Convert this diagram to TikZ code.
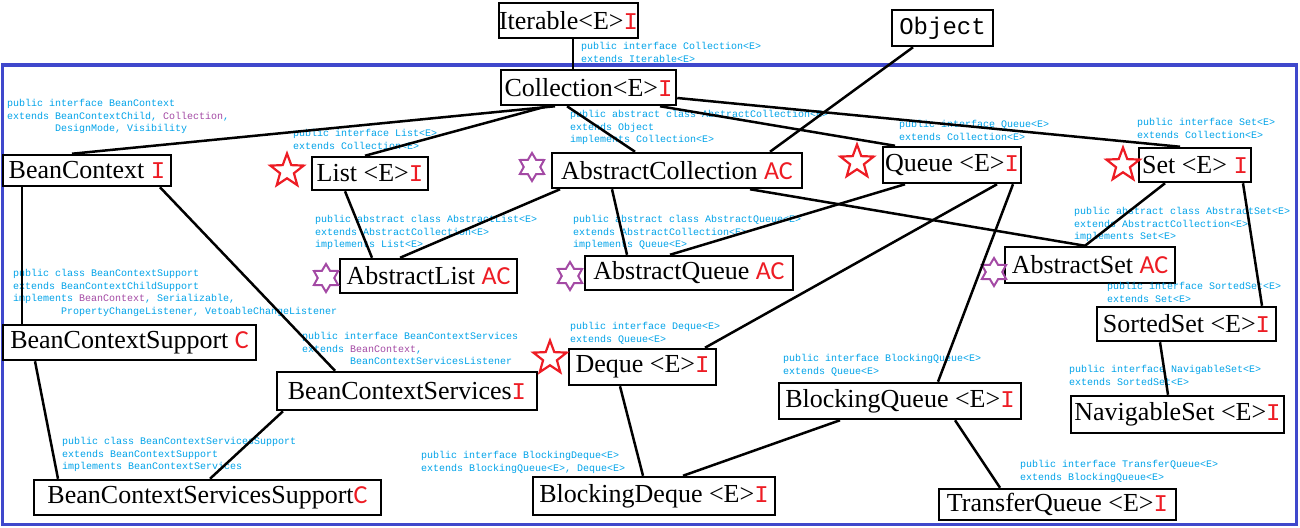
\documentclass[tikz,border=0pt]{standalone}
\usepackage{fontspec}
\usepackage{tikz}
\usetikzlibrary{shapes.geometric}
\newfontfamily\codefont{Liberation Mono}
\newfontfamily\tagfont{Carlito}
\newfontfamily\boxfont{Liberation Serif}
\definecolor{codeblue}{RGB}{0,162,232}
\definecolor{codepurple}{RGB}{163,73,164}
\definecolor{markred}{RGB}{237,28,36}
\definecolor{framecol}{RGB}{63,72,204}
\newcommand{\intf}{{\color{markred}\codefont\fontsize{24}{26}\selectfont I}}
\newcommand{\absc}{{\color{markred}\tagfont AC}}
\newcommand{\clss}{{\color{markred}\tagfont C}}
\newcommand{\pk}[1]{{\color{codepurple}#1}}
\newcommand{\ind}{\hspace*{48pt}}

\begin{document}
\begin{tikzpicture}[x=1pt,y=-1pt,
  box/.style={draw,line width=2.5pt,inner sep=0pt,
    font=\boxfont\fontsize{26}{28}\selectfont},
  code/.style={anchor=north west,inner sep=0pt,align=left,text=codeblue,
    font=\codefont\fontsize{10}{12.7}\selectfont},
  redstar/.style={star,star points=5,star point ratio=2.4,draw=markred,
    line width=2.2pt,minimum size=35pt,inner sep=0pt},
  purplestar/.style={star,star points=6,star point ratio=1.7,draw=codepurple,
    line width=2pt,minimum size=28pt,inner sep=0pt},
  link/.style={line width=2.5pt}]
  \useasboundingbox (0,0) rectangle (1300,527);
  \draw[framecol,line width=3pt] (2,65) rectangle (1296,524);

  % boxes
  \node[box,minimum width=131pt,minimum height=35pt] (iter) at (568.5,20.5) {Iterable<E>\intf};
  \node[box,minimum width=101pt,minimum height=36pt,font=\codefont\fontsize{24}{26}\selectfont] (obj) at (942.5,28) {Object};
  \node[box,minimum width=175pt,minimum height=35pt] (coll) at (588.5,87.5) {Collection<E>\intf};
  \node[box,minimum width=168pt,minimum height=31pt] (bc) at (87,170.5) {BeanContext \intf};
  \node[box,minimum width=116pt,minimum height=33pt] (list) at (370,173.5) {List <E>\intf};
  \node[box,minimum width=250pt,minimum height=35pt] (acoll) at (677,170.5) {AbstractCollection \absc};
  \node[box,minimum width=138pt,minimum height=36pt] (queue) at (952,165) {Queue <E>\intf};
  \node[box,minimum width=112pt,minimum height=34pt] (set) at (1195,165) {Set <E> \intf};
  \node[box,minimum width=177pt,minimum height=34pt] (alist) at (428.5,276) {AbstractList \absc};
  \node[box,minimum width=208pt,minimum height=34pt] (aqueue) at (689,273) {AbstractQueue \absc};
  \node[box,minimum width=170pt,minimum height=36pt] (aset) at (1090,265) {AbstractSet \absc};
  \node[box,minimum width=253pt,minimum height=35pt] (bcs) at (129.5,342.5) {BeanContextSupport \clss};
  \node[box,minimum width=179pt,minimum height=34pt] (sset) at (1186.5,324) {SortedSet <E>\intf};
  \node[box,minimum width=260pt,minimum height=38pt] (bcsv) at (407,391) {BeanContextServices\intf};
  \node[box,minimum width=147pt,minimum height=36pt] (deque) at (642.5,367) {Deque <E>\intf};
  \node[box,minimum width=242pt,minimum height=36pt] (bq) at (900,401) {BlockingQueue <E>\intf};
  \node[box,minimum width=213pt,minimum height=37pt] (nset) at (1177.5,414.5) {NavigableSet <E>\intf};
  \node[box,minimum width=347pt,minimum height=35pt] (bcss) at (207.5,497.5) {BeanContextServicesSupport\clss};
  \node[box,minimum width=242pt,minimum height=38pt] (bdeque) at (654,496) {BlockingDeque <E>\intf};
  \node[box,minimum width=237pt,minimum height=31pt] (tq) at (1057.5,504.5) {TransferQueue <E>\intf};

  % markers
  \node[redstar] (rs1) at (287,171) {};
  \node[redstar] (rs2) at (857,162) {};
  \node[redstar] (rs3) at (1123,165) {};
  \node[redstar] (rs4) at (550,358) {};
  \node[purplestar] (ps1) at (532,167) {};
  \node[purplestar] (ps2) at (326,278) {};
  \node[purplestar] (ps3) at (570,276) {};
  \node[purplestar] (ps4) at (994,272) {};

  % declarations
  \node[code] (c1) at (581,42) {public interface Collection<E>\\extends Iterable<E>};
  \node[code] (c2) at (7,99) {public interface BeanContext\\extends BeanContextChild, \pk{Collection},\\\ind DesignMode, Visibility};
  \node[code] (c3) at (293,129) {public interface List<E>\\extends Collection<E>};
  \node[code] (c4) at (570,110) {public abstract class AbstractCollection<E>\\extends Object\\implements Collection<E>};
  \node[code] (c5) at (899,120) {public interface Queue<E>\\extends Collection<E>};
  \node[code] (c6) at (1137,118) {public interface Set<E>\\extends Collection<E>};
  \node[code] (c7) at (315,215) {public abstract class AbstractList<E>\\extends AbstractCollection<E>\\implements List<E>};
  \node[code] (c8) at (573,215) {public abstract class AbstractQueue<E>\\extends AbstractCollection<E>\\implements Queue<E>};
  \node[code] (c9) at (1074,207) {public abstract class AbstractSet<E>\\extends AbstractCollection<E>\\implements Set<E>};
  \node[code] (c10) at (13,269) {public class BeanContextSupport\\extends BeanContextChildSupport\\implements \pk{BeanContext}, Serializable,\\\ind PropertyChangeListener, VetoableChangeListener};
  \node[code] (c11) at (1107,282) {public interface SortedSet<E>\\extends Set<E>};
  \node[code] (c12) at (302,332) {public interface BeanContextServices\\extends \pk{BeanContext},\\\ind BeanContextServicesListener};
  \node[code] (c13) at (570,322) {public interface Deque<E>\\extends Queue<E>};
  \node[code] (c14) at (783,354) {public interface BlockingQueue<E>\\extends Queue<E>};
  \node[code] (c15) at (1069,365) {public interface NavigableSet<E>\\extends SortedSet<E>};
  \node[code] (c16) at (62,437) {public class BeanContextServicesSupport\\extends BeanContextSupport\\implements BeanContextServices};
  \node[code] (c17) at (421,451) {public interface BlockingDeque<E>\\extends BlockingQueue<E>, Deque<E>};
  \node[code] (c18) at (1020,460) {public interface TransferQueue<E>\\extends BlockingQueue<E>};

  % links
  \draw[link] ([xshift=4.5pt]iter.south) -- ([xshift=-15.5pt]coll.north);
  \draw[link] ([xshift=-29.5pt]obj.south) -- ([xshift=93pt]acoll.north);
  \draw[link] ([xshift=-33.5pt]coll.south) -- ([xshift=-15pt]bc.north);
  \draw[link] ([xshift=-41.5pt]coll.south) -- ([xshift=-5pt]list.north);
  \draw[link] ([xshift=-21.5pt]coll.south) -- ([xshift=-42pt]acoll.north);
  \draw[link] ([xshift=71.5pt]coll.south) -- ([xshift=-57pt]queue.north);
  \draw[link] ([yshift=-10.5pt]coll.east) -- ([xshift=-15pt]set.north);
  \draw[link] ([xshift=-65pt]bc.south) -- ([xshift=-107.5pt]bcs.north);
  \draw[link] ([xshift=73pt]bc.south) -- ([xshift=-72pt]bcsv.north);
  \draw[link] ([xshift=-94.5pt]bcs.south) -- ([xshift=-149.5pt]bcss.north);
  \draw[link] ([xshift=-124pt]bcsv.south) -- ([xshift=2.5pt]bcss.north);
  \draw[link] ([xshift=-25pt]list.south) -- ([xshift=-56.5pt]alist.north);
  \draw[link] ([xshift=-117pt]acoll.south) -- ([xshift=-28.5pt]alist.north);
  \draw[link] ([xshift=-65pt]acoll.south) -- ([xshift=-62pt]aqueue.north);
  \draw[link] ([xshift=-47pt]queue.south) -- ([xshift=-19pt]aqueue.north);
  \draw[link] ([xshift=73pt]acoll.south) -- ([xshift=-5pt]aset.north);
  \draw[link] ([xshift=45pt]queue.south) -- ([xshift=62.5pt]deque.north);
  \draw[link] ([xshift=61pt]queue.south) -- ([xshift=38pt]bq.north);
  \draw[link] ([xshift=-30pt]set.south) -- ([xshift=-5pt]aset.north);
  \draw[link] ([xshift=48pt]set.south) -- ([xshift=75.5pt]sset.north);
  \draw[link] ([xshift=-26.5pt]sset.south) -- ([xshift=-9.5pt]nset.north);
  \draw[link] ([xshift=-22.5pt]deque.south) -- ([xshift=-11pt]bdeque.north);
  \draw[link] ([xshift=-60pt]bq.south) -- ([xshift=29pt]bdeque.north);
  \draw[link] ([xshift=55pt]bq.south) -- ([xshift=-57.5pt]tq.north);
\end{tikzpicture}
\end{document}
